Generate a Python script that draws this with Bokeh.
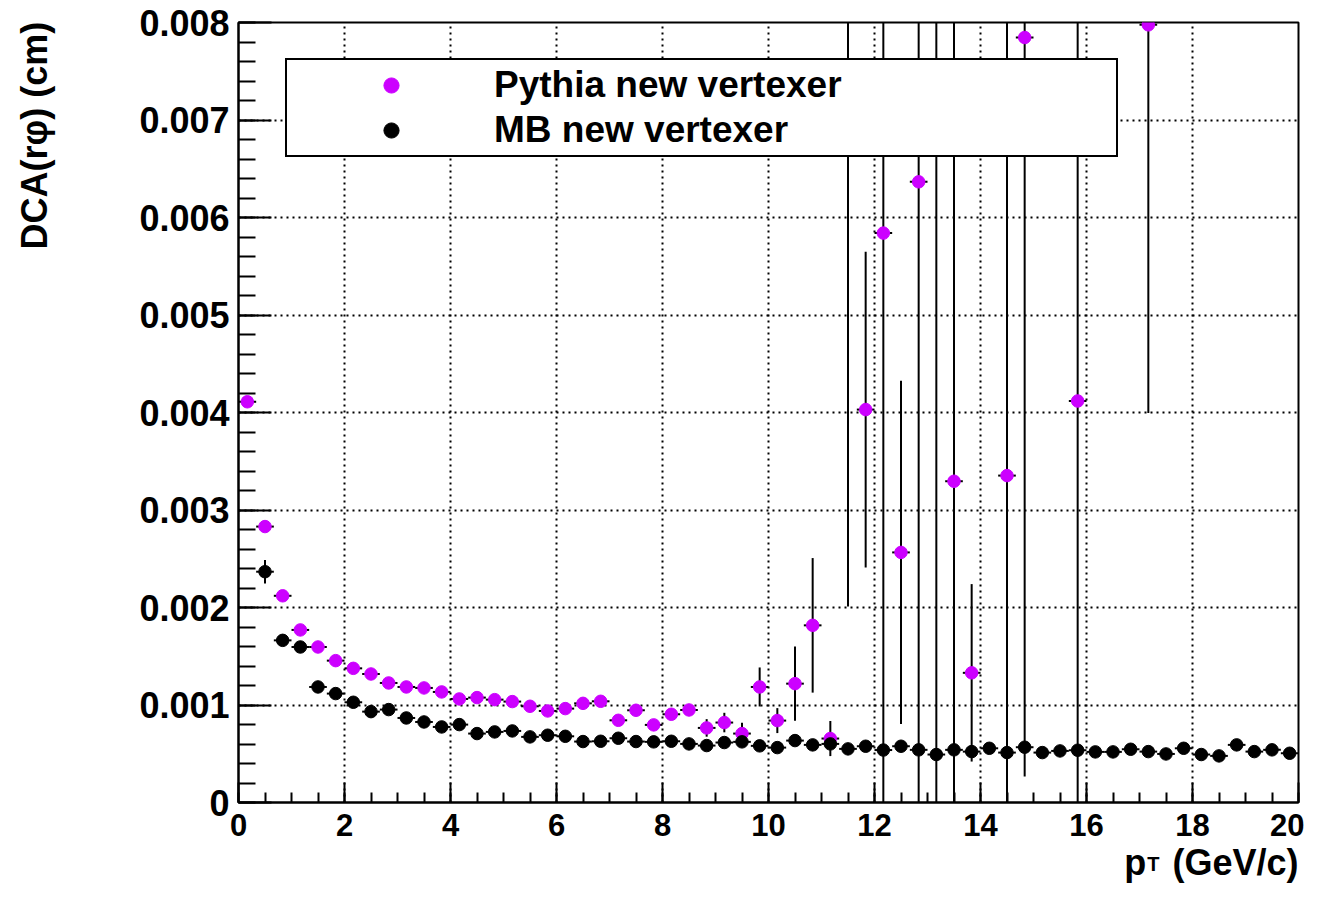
import numpy as np
from bokeh.plotting import figure
from bokeh.models import (ColumnDataSource, Range1d, SingleIntervalTicker, FixedTicker,
                          PrintfTickFormatter, Legend, LegendItem, LinearAxis)
from bokeh.embed import file_html
from bokeh.resources import INLINE

# ---- data (DCA values in units of 1e-3 cm) ----
bin_width = 1.0 / 3.0
pt = [round((i + 0.5) * bin_width, 4) for i in range(60)]

pythia_dca = [4.11, 2.83, 2.12, 1.77, 1.595, 1.455, 1.376, 1.318, 1.226, 1.185,
              1.175, 1.134, 1.062, 1.076, 1.055, 1.035, 0.987, 0.939, 0.963, 1.017,
              1.038, 0.843, 0.946, 0.796, 0.905, 0.949, 0.765, 0.820, 0.707, 1.185,
              0.840, 1.219, 1.817, 0.656, 7.20, 4.03, 5.84, 2.565, 6.366, 7.10,
              3.295, 1.33, None, 3.353, 7.846, None, None, 4.118, None, None,
              None, 7.976, None, None, None, None, None, None, None, None]
pythia_err = [0.02, 0.02, 0.02, 0.02, 0.02, 0.02, 0.02, 0.02, 0.02, 0.02,
              0.02, 0.02, 0.02, 0.02, 0.02, 0.02, 0.02, 0.02, 0.02, 0.02,
              0.02, 0.05, 0.05, 0.05, 0.05, 0.05, 0.09, 0.10, 0.11, 0.20,
              0.128, 0.38, 0.69, 0.18, 5.19, 1.62, 6.2, 1.76, 6.8, 7.6,
              5.0, 0.91, None, 5.1, 7.58, None, None, 4.6, None, None,
              None, 3.98, None, None, None, None, None, None, None, None]

mb_dca = [None, 2.367, 1.663, 1.595, 1.185, 1.117, 1.028, 0.932, 0.953, 0.867,
          0.826, 0.775, 0.799, 0.707, 0.724, 0.734, 0.673, 0.690, 0.679, 0.625,
          0.628, 0.659, 0.625, 0.622, 0.628, 0.601, 0.584, 0.615, 0.622, 0.581,
          0.563, 0.635, 0.591, 0.601, 0.550, 0.577, 0.538, 0.577, 0.540, 0.492,
          0.540, 0.522, 0.556, 0.512, 0.567, 0.512, 0.529, 0.536, 0.519, 0.519,
          0.546, 0.522, 0.498, 0.556, 0.492, 0.478, 0.591, 0.522, 0.540, 0.505]
mb_err = [None, 0.12, 0.06, 0.04, 0.03, 0.03, 0.03, 0.03, 0.03, 0.03,
          0.03, 0.03, 0.03, 0.03, 0.03, 0.03, 0.03, 0.03, 0.03, 0.03,
          0.03, 0.03, 0.03, 0.03, 0.03, 0.03, 0.03, 0.03, 0.03, 0.03,
          0.03, 0.03, 0.03, 0.03, 0.03, 0.03, 0.03, 0.03, 0.03, 0.03,
          0.03, 0.03, 0.03, 0.03, 0.03, 0.03, 0.03, 0.03, 0.03, 0.03,
          0.03, 0.03, 0.03, 0.03, 0.03, 0.03, 0.03, 0.03, 0.03, 0.03]

y_tick_overrides = {0: "0"}
y_title = {0.00684: "DCA(rφ) (cm)"}          # top-aligned title (ROOT style)
x_title_parts = {16.92: "p", 18.81: "(GeV/c)"}
x_title_sub = {17.26: "T"}


def make_source(xs, ys, es):
    rows = [(x, y * 1e-3, e * 1e-3) for x, y, e in zip(xs, ys, es) if y is not None]
    x = np.array([r[0] for r in rows])
    y = np.array([r[1] for r in rows])
    e = np.array([r[2] for r in rows])
    return ColumnDataSource(dict(x=x, y=y, lo=y - e, hi=y + e,
                                 xl=x - bin_width / 2, xr=x + bin_width / 2))


src_py = make_source(pt, pythia_dca, pythia_err)
src_mb = make_source(pt, mb_dca, mb_err)

FONT = "Liberation Sans"
MAGENTA = "#cc00ff"

p = figure(width=1304, height=885, x_range=Range1d(0, 20), y_range=Range1d(0, 0.008),
           output_backend="svg", toolbar_location=None,
           min_border_left=238, min_border_right=6, min_border_top=22,
           min_border_bottom=82)
p.background_fill_color = "white"
p.border_fill_color = "white"
p.outline_line_color = "black"
p.outline_line_width = 2

p.xaxis.ticker = SingleIntervalTicker(interval=2, num_minor_ticks=4)
p.yaxis.ticker = SingleIntervalTicker(interval=0.001, num_minor_ticks=5)
p.yaxis.formatter = PrintfTickFormatter(format="%.3f")
p.yaxis.major_label_overrides = y_tick_overrides

for ax in (p.xaxis, p.yaxis):
    ax.axis_line_width = 2
    ax.axis_line_color = "black"
    ax.major_tick_line_width = 2
    ax.minor_tick_line_width = 2
    ax.major_tick_line_color = "black"
    ax.minor_tick_line_color = "black"
    ax.major_tick_out = 0
    ax.minor_tick_out = 0
    ax.major_label_text_font = FONT
    ax.major_label_text_font_style = "bold"
    ax.major_label_text_color = "black"

p.xaxis.major_tick_in = 20
p.xaxis.minor_tick_in = 10
p.yaxis.major_tick_in = 33
p.yaxis.minor_tick_in = 17
p.xaxis.major_label_text_font_size = "31px"
p.yaxis.major_label_text_font_size = "36px"
p.xaxis.major_label_standoff = 11
p.yaxis.major_label_standoff = 9

for g in (p.xgrid, p.ygrid):
    g.grid_line_color = "black"
    g.grid_line_dash = "2 4"
    g.grid_line_width = 2
    g.grid_line_alpha = 1.0

# Pythia
p.segment(x0="x", y0="lo", x1="x", y1="hi", source=src_py, line_color="black", line_width=2)
p.segment(x0="xl", y0="y", x1="xr", y1="y", source=src_py, line_color="black", line_width=2)
r_py = p.scatter(x="x", y="y", source=src_py, size=12.5, marker="circle",
                 fill_color=MAGENTA, line_color=MAGENTA)
# MB
p.segment(x0="x", y0="lo", x1="x", y1="hi", source=src_mb, line_color="black", line_width=2)
p.segment(x0="xl", y0="y", x1="xr", y1="y", source=src_mb, line_color="black", line_width=2)
r_mb = p.scatter(x="x", y="y", source=src_mb, size=12.5, marker="circle",
                 fill_color="black", line_color="black")

legend = Legend(items=[LegendItem(label="Pythia new vertexer", renderers=[r_py]),
                       LegendItem(label="MB new vertexer", renderers=[r_mb])],
                location=(47, 645), margin=0, padding=4, spacing=3,
                glyph_width=200, glyph_height=38, label_height=38,
                label_standoff=3, label_width=618,
                label_text_font=FONT, label_text_font_style="bold",
                label_text_font_size="37px", label_text_color="black",
                border_line_color="black", border_line_width=2, border_line_alpha=1.0,
                background_fill_color="white", background_fill_alpha=1.0)
p.add_layout(legend)


def title_axis(ticks_map, size, standoff, orientation="horizontal"):
    ax = LinearAxis(ticker=FixedTicker(ticks=list(ticks_map.keys()), minor_ticks=[]),
                    major_label_overrides=ticks_map)
    ax.axis_line_color = None
    ax.major_tick_line_color = None
    ax.minor_tick_line_color = None
    ax.major_tick_in = 0
    ax.major_tick_out = 0
    ax.minor_tick_in = 0
    ax.minor_tick_out = 0
    ax.major_label_standoff = standoff
    ax.major_label_orientation = orientation
    ax.major_label_text_font = FONT
    ax.major_label_text_font_style = "bold"
    ax.major_label_text_font_size = size
    ax.major_label_text_color = "black"
    return ax


# y title
p.add_layout(title_axis(y_title, "36px", 81, "parallel"), "left")
# x title: subscript row first, then the main row pulled back above it
p.add_layout(title_axis(x_title_sub, "20px", 14), "below")
p.add_layout(title_axis(x_title_parts, "36px", -36), "below")

open("out.html", "w").write(file_html(p, INLINE))
